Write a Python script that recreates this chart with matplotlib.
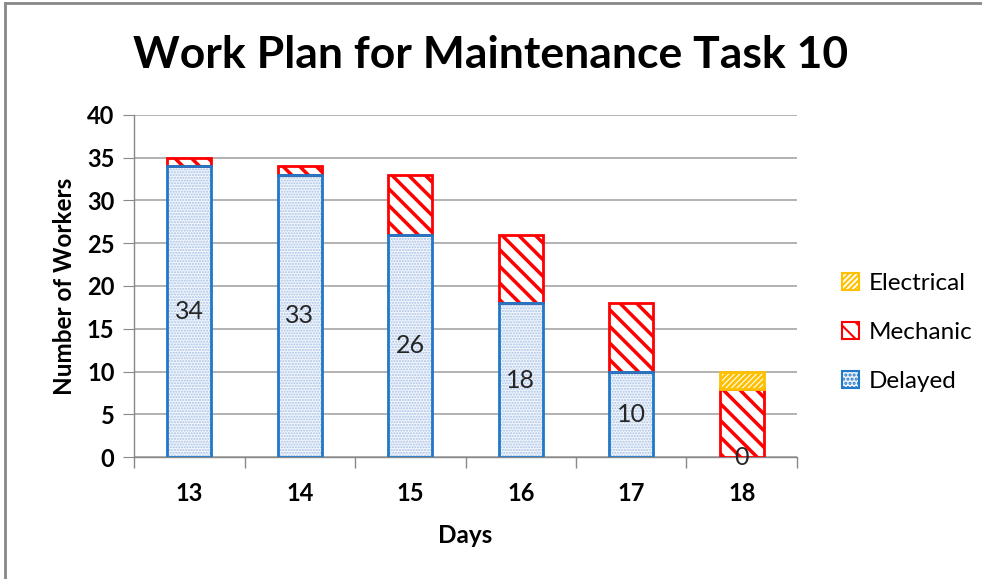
import matplotlib
matplotlib.use("Agg")
import matplotlib.pyplot as plt
from matplotlib.patches import Patch
import numpy as np

days = ["13", "14", "15", "16", "17", "18"]
delayed = [34, 33, 26, 18, 10, 0]
mechanic = [1, 1, 7, 8, 8, 8]
electrical = [0, 0, 0, 0, 0, 2]
y_ticks = [0, 5, 10, 15, 20, 25, 30, 35, 40]

plt.rcParams['font.family'] = ['Lato', 'DejaVu Sans']

fig = plt.figure(figsize=(9.82, 5.79), dpi=100)
ax = fig.add_axes([0.1365, 0.2107, 0.8116 - 0.1365, 0.8014 - 0.2107])

x = np.arange(len(days))
w = 0.4
d = np.array(delayed)
m = np.array(mechanic)
e = np.array(electrical)

blue_edge = '#1f78c8'
red = '#ff0000'
orange = '#ffc000'


def edges(vals, c):
    return [c if v > 0 else 'none' for v in vals]


# Delayed: dotted fill
plt.rcParams['hatch.linewidth'] = 1.0
ax.bar(x, d, w, color='#f2f6fc', edgecolor='#a8c2e6', hatch='......', linewidth=0, zorder=3)
ax.bar(x, d, w, fill=False, edgecolor=edges(d, blue_edge), linewidth=2, zorder=4)
# Mechanic
plt.rcParams['hatch.linewidth'] = 2.5
ax.bar(x, m, w, bottom=d, color='white', edgecolor=edges(m, red), hatch='\\\\', linewidth=2, zorder=3)
# Electrical
plt.rcParams['hatch.linewidth'] = 2.0
ax.bar(x, e, w, bottom=d + m, color='white', edgecolor=edges(e, orange), hatch='//////', linewidth=0, zorder=3)
ax.bar(x, e, w, bottom=d + m, fill=False, edgecolor=edges(e, orange), linewidth=2, zorder=4)

for xi, v in zip(x, d):
    ax.text(xi, v / 2, str(v), ha='center', va='center', fontsize=18, color='#262626', zorder=5)

ax.set_xlim(-0.5, len(days) - 0.5)
ax.set_ylim(0, 40)
ax.set_yticks(y_ticks)
ax.set_xticks(x)
ax.set_xticklabels(days)
ax.set_xticks(np.arange(len(days) + 1) - 0.5, minor=True)
ax.tick_params(axis='x', which='major', length=0, pad=18, labelsize=17)
ax.tick_params(axis='x', which='minor', length=8, color='#888888', width=1)
ax.tick_params(axis='y', length=8, color='#888888', labelsize=17, pad=6)
for lab in ax.get_xticklabels() + ax.get_yticklabels():
    lab.set_fontweight('bold')

ax.grid(axis='y', color='#a6a6a6', linewidth=1.2, zorder=0)
ax.set_axisbelow(True)
for s in ['top', 'right']:
    ax.spines[s].set_visible(False)
for s in ['left', 'bottom']:
    ax.spines[s].set_color('#888888')
    ax.spines[s].set_linewidth(1)

ax.set_xlabel('Days', fontsize=17.5, fontweight='bold', labelpad=14)
ax.set_ylabel('Number of Workers', fontsize=17.5, fontweight='bold', labelpad=8)

fig.text(0.5, 0.905, 'Work Plan for Maintenance Task 10', ha='center', va='center',
         fontsize=32, fontweight='bold')

plt.rcParams['hatch.linewidth'] = 1.5
handles = [
    Patch(facecolor='white', edgecolor=orange, hatch='//////', linewidth=1.5),
    Patch(facecolor='white', edgecolor=red, hatch='\\\\', linewidth=1.5),
    Patch(facecolor='#eef3fa', edgecolor=blue_edge, hatch='....', linewidth=1.5),
]
fig.legend(handles, ['Electrical', 'Mechanic', 'Delayed'], loc='center left',
           bbox_to_anchor=(0.835, 0.426), frameon=False, fontsize=17.5,
           handlelength=0.7, handleheight=0.7, handletextpad=0.4, labelspacing=1.15)

# outer border (top and left)
fig.add_artist(plt.Line2D([0.005, 1.0], [0.995, 0.995], color='#888888', linewidth=2, transform=fig.transFigure))
fig.add_artist(plt.Line2D([0.005, 0.005], [0.0, 0.995], color='#888888', linewidth=2, transform=fig.transFigure))

fig.savefig('out.png', dpi=100)
